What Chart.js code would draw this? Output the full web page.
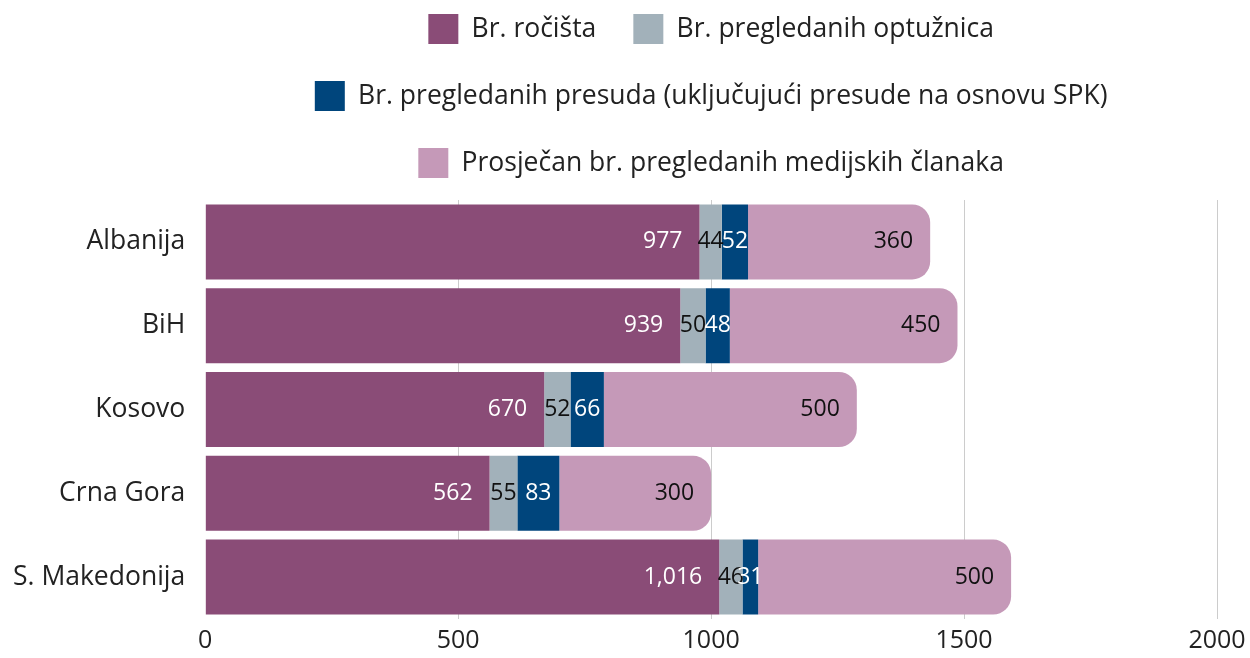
<!DOCTYPE html>
<html>
<head>
<meta charset="utf-8">
<script src="https://cdn.jsdelivr.net/npm/chart.js@4"></script>
<style>
  html, body { margin: 0; padding: 0; background: #fff; overflow: hidden; }
  #wrap { width: 1250px; height: 658px; }
</style>
</head>
<body>
<div id="wrap"><canvas id="chart"></canvas></div>
<script>
// Podaci
const categories = ['Albanija', 'BiH', 'Kosovo', 'Crna Gora', 'S. Makedonija'];
const rocista = [977, 939, 670, 562, 1016];
const optuznice = [44, 50, 52, 55, 46];
const presude = [52, 48, 66, 83, 31];
const clanci = [360, 450, 500, 300, 500];

const seriesNames = [
    'Br. ročišta',
    'Br. pregledanih optužnica',
    'Br. pregledanih presuda (uključujući presude na osnovu SPK)',
    'Prosječan br. pregledanih medijskih članaka'
];
const colors = ['#8a4c77', '#a2b1ba', '#00457c', '#c599b8'];
const labelColors = ['#ffffff', '#111111', '#ffffff', '#111111'];

const FONT = "'Open Sans', sans-serif";

// Oznake vrijednosti unutar segmenata
const segmentLabels = {
    id: 'segmentLabels',
    afterDatasetsDraw(chart) {
        const ctx = chart.ctx;
        ctx.save();
        ctx.font = `23px ${FONT}`;
        ctx.textBaseline = 'middle';
        chart.data.datasets.forEach((ds, i) => {
            const meta = chart.getDatasetMeta(i);
            meta.data.forEach((bar, j) => {
                const w = bar.x - bar.base;
                const text = ds.data[j].toLocaleString('en-US');
                ctx.fillStyle = labelColors[i];
                if (w < 60) {
                    ctx.textAlign = 'center';
                    ctx.fillText(text, (bar.x + bar.base) / 2, bar.y);
                } else {
                    ctx.textAlign = 'right';
                    ctx.fillText(text, bar.x - 17, bar.y);
                }
            });
        });
        ctx.restore();
    }
};

// Razmak ispod legende
const legendMargin = {
    id: 'legendMargin',
    beforeInit(chart) {
        const fit = chart.legend.fit;
        chart.legend.fit = function () {
            fit.bind(chart.legend)();
            this.height += 12;
        };
    }
};

new Chart(document.getElementById('chart'), {
    type: 'bar',
    data: {
        labels: categories,
        datasets: [rocista, optuznice, presude, clanci].map((d, i) => ({
            label: seriesNames[i],
            data: d,
            backgroundColor: colors[i],
            borderWidth: 0,
            borderRadius: i === 3 ? 18 : 0,
            borderSkipped: 'start',
            categoryPercentage: 0.895,
            barPercentage: 1
        }))
    },
    options: {
        indexAxis: 'y',
        responsive: true,
        maintainAspectRatio: false,
        animation: false,
        layout: { padding: { left: -7, right: 0, top: -23, bottom: 0 } },
        plugins: {
            legend: {
                position: 'top',
                fullSize: false,
                labels: {
                    color: '#222',
                    font: { family: FONT, size: 26.5 },
                    boxWidth: 30,
                    boxHeight: 30,
                    padding: 37
                }
            },
            tooltip: { enabled: false }
        },
        scales: {
            x: {
                stacked: true,
                min: 0,
                max: 2000,
                afterFit: (scale) => {
                    scale.height -= 5;
                    scale.paddingRight = 33;
                },
                ticks: {
                    stepSize: 500,
                    color: '#222',
                    font: { family: FONT, size: 25 },
                    padding: 7,
                    callback: (v) => String(v)
                },
                grid: {
                    color: (c) => c.tick && c.tick.value === 0 ? 'rgba(0,0,0,0)' : '#cccccc',
                    drawTicks: false
                },
                border: { display: false }
            },
            y: {
                stacked: true,
                afterFit: (scale) => {
                    scale.paddingTop = 0;
                    scale.paddingBottom = 0;
                },
                ticks: {
                    color: '#222',
                    font: { family: FONT, size: 26.5 },
                    padding: 20
                },
                grid: { display: false, drawTicks: false },
                border: { display: false }
            }
        }
    },
    plugins: [segmentLabels, legendMargin]
});
</script>
</body>
</html>
